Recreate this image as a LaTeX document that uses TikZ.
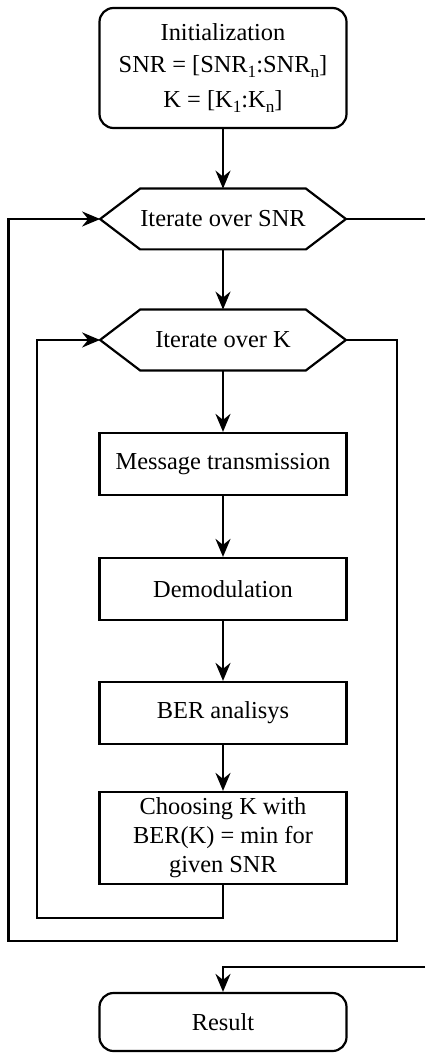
\documentclass[tikz,border=0pt]{standalone}
\usepackage{fontspec}
\setmainfont{Liberation Serif}
\usetikzlibrary{arrows.meta}
\newcommand{\lowsub}[1]{\raisebox{-0.45ex}{\fontsize{8.6}{8.6}\selectfont #1}}
\begin{document}
\begin{tikzpicture}[x=0.5pt,y=-0.5pt,
  every node/.style={font=\fontsize{12.2}{14.5}\selectfont},
  line/.style={line width=1.1pt},
  arr/.style={line, -{Stealth[length=9pt,width=7.5pt,inset=3pt]}},
  rbox/.style={draw, line width=1.1pt, rounded corners=7pt, minimum width=123.5pt, align=center, inner sep=0pt},
  sbox/.style={draw, line width=1.1pt, minimum width=123.5pt, align=center, inner sep=0pt},
  hexnode/.style={minimum width=122.5pt, minimum height=30pt, inner sep=0pt}
]
\useasboundingbox (0,0) rectangle (425,1053);

\node[rbox, minimum height=60pt, font=\fontsize{12.2}{16}\selectfont] (init) at (223,68)
  {Initialization\\SNR = [SNR\lowsub{1}:SNR\lowsub{n}]\\[1.5pt]K = [K\lowsub{1}:K\lowsub{n}]};

\node[hexnode] (snr) at (223,219) {Iterate over SNR};
\draw[line] (snr.west) -- ([xshift=20pt]snr.north west) -- ([xshift=-20pt]snr.north east)
  -- (snr.east) -- ([xshift=-20pt]snr.south east) -- ([xshift=20pt]snr.south west) -- cycle;

\node[hexnode] (k) at (223,340) {Iterate over K};
\draw[line] (k.west) -- ([xshift=20pt]k.north west) -- ([xshift=-20pt]k.north east)
  -- (k.east) -- ([xshift=-20pt]k.south east) -- ([xshift=20pt]k.south west) -- cycle;

\node[sbox, minimum height=31pt] (msg) at (223,464) {Message transmission};
\node[sbox, minimum height=31pt] (dem) at (223,589) {Demodulation};
\node[sbox, minimum height=31pt] (ber) at (223,713) {BER analisys};
\node[sbox, minimum height=46pt] (cho) at (223,838) {Choosing K with\\BER(K) = min for\\given SNR};
\node[rbox, minimum height=29pt] (res) at (223,1022) {Result};

\draw[arr] (init.south) -- (snr.north);
\draw[arr] (snr.south) -- (k.north);
\draw[arr] (k.south) -- (msg.north);
\draw[arr] (msg.south) -- (dem.north);
\draw[arr] (dem.south) -- (ber.north);
\draw[arr] (ber.south) -- (cho.north);

\coordinate (ib) at (37,918);
\draw[arr] (cho.south) |- (ib) |- (k.west);

\coordinate (ko) at (397,941);
\coordinate (oo) at (8.5,941);
\draw[arr] (k.east) -| (ko) -- (oo) |- (snr.west);

\coordinate (snrout) at (425,219);
\draw[line] (snr.east) -- (snrout);
\coordinate (resin) at (425,967);
\draw[arr] (resin) -| (res.north);
\end{tikzpicture}
\end{document}
